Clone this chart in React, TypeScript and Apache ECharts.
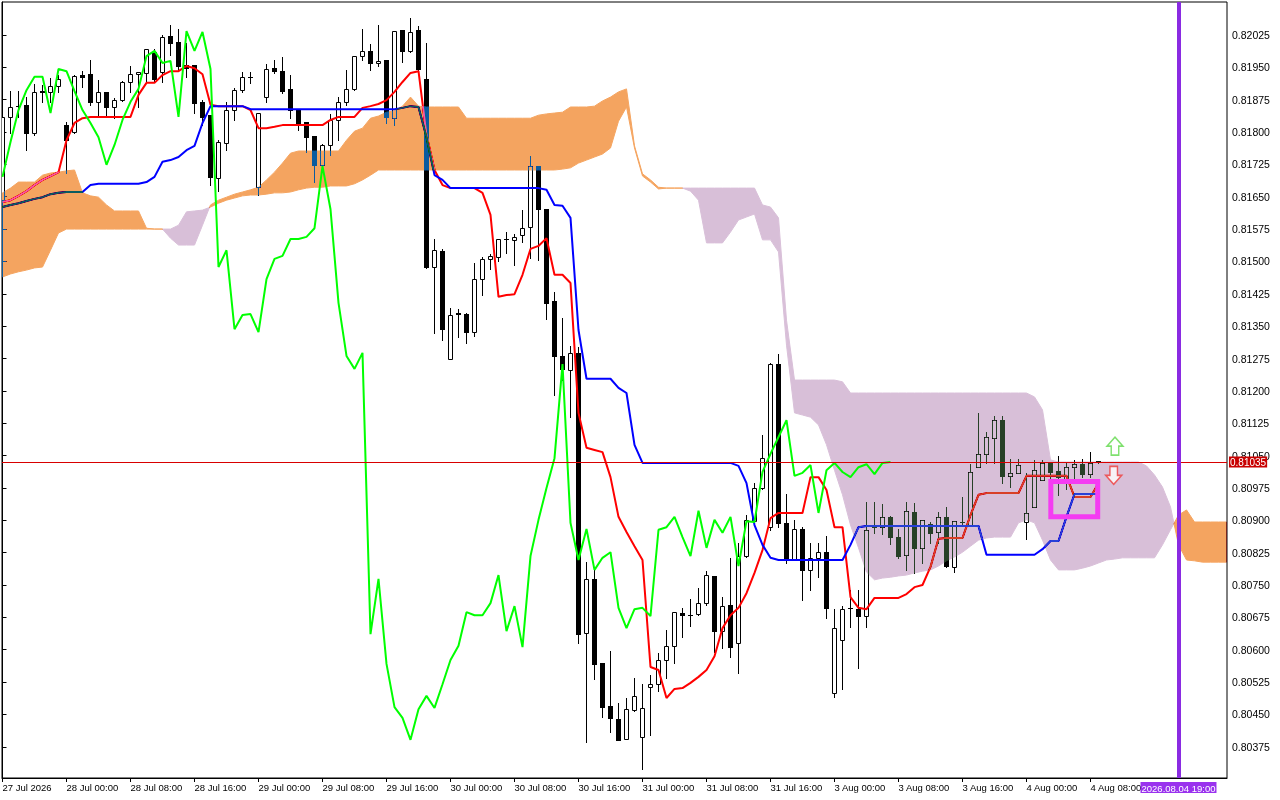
import React, { useEffect, useRef } from 'react';
import * as echarts from 'echarts';

// ---- axis labels ----
const timeLabelBars = [0, 8, 16, 24, 32, 40, 48, 56, 64, 72, 80, 88, 96, 104, 112, 120, 128, 136];
const timeLabels = [
  '27 Jul 2026', '28 Jul 00:00', '28 Jul 08:00', '28 Jul 16:00', '29 Jul 00:00', '29 Jul 08:00',
  '29 Jul 16:00', '30 Jul 00:00', '30 Jul 08:00', '30 Jul 16:00', '31 Jul 00:00', '31 Jul 08:00',
  '31 Jul 16:00', '3 Aug 00:00', '3 Aug 08:00', '3 Aug 16:00', '4 Aug 00:00', '4 Aug 08:00',
];
const priceTickLabels = [
  '0.80375', '0.80450', '0.80525', '0.80600', '0.80675', '0.80750', '0.80825', '0.80900',
  '0.80975', '0.81050', '0.81125', '0.81200', '0.81275', '0.81350', '0.81425', '0.81500',
  '0.81575', '0.81650', '0.81725', '0.81800', '0.81875', '0.81950', '0.82025',
];

// ---- H1 candles (bar index 0 = 27 Jul 16:00) ----
const open = [
  0.81642, 0.81835, 0.81860, 0.81863, 0.81798, 0.81895, 0.81893, 0.81907, 0.81816, 0.81800,
  0.81932, 0.81934, 0.81870, 0.81893, 0.81858, 0.81874, 0.81916, 0.81934, 0.81937, 0.81985,
  0.81939, 0.82023, 0.82009, 0.81955, 0.81955, 0.81870, 0.81839, 0.81693, 0.81774, 0.81851,
  0.81897, 0.81928, 0.81672, 0.81881, 0.81948, 0.81941, 0.81900, 0.81851, 0.81823, 0.81791,
  0.81724, 0.81770, 0.81828, 0.81870, 0.81900, 0.81976, 0.81988, 0.81960, 0.81967, 0.81832,
  0.82036, 0.81988, 0.82036, 0.81923, 0.81487, 0.81524, 0.81274, 0.81380, 0.81378, 0.81336,
  0.81459, 0.81506, 0.81510, 0.81552, 0.81550, 0.81561, 0.81580, 0.81721, 0.81621, 0.81408,
  0.81281, 0.81248, 0.81288, 0.80639, 0.80764, 0.80569, 0.80469, 0.80439, 0.80393, 0.80460,
  0.80398, 0.80513, 0.80520, 0.80576, 0.80609, 0.80685, 0.80680, 0.80683, 0.80708, 0.80771,
  0.80643, 0.80704, 0.80615, 0.80817, 0.80898, 0.80975, 0.80884, 0.81262, 0.80894, 0.80808,
  0.80880, 0.80785, 0.80813, 0.80826, 0.80500, 0.80622, 0.80697, 0.80694, 0.80678, 0.80884,
  0.80884, 0.80908, 0.80861, 0.80820, 0.80919, 0.80836, 0.80891, 0.80873, 0.80908, 0.80792,
  0.80896, 0.80889, 0.81023, 0.81054, 0.81091, 0.81132, 0.81003, 0.81010, 0.80896, 0.80931,
  0.80993, 0.81033, 0.81014, 0.80993, 0.81023, 0.81030, 0.81007, 0.81037,
];
const high = [
  0.81839, 0.81895, 0.81895, 0.81881, 0.81911, 0.81909, 0.81925, 0.81932, 0.81823, 0.81932,
  0.81941, 0.81967, 0.81921, 0.81893, 0.81879, 0.81918, 0.81953, 0.81939, 0.81992, 0.81992,
  0.82025, 0.82048, 0.82039, 0.82006, 0.81955, 0.81874, 0.81839, 0.81781, 0.81870, 0.81902,
  0.81939, 0.81939, 0.81844, 0.81958, 0.81967, 0.81974, 0.81932, 0.81851, 0.81823, 0.81791,
  0.81772, 0.81842, 0.81881, 0.81944, 0.81976, 0.82039, 0.82004, 0.82048, 0.81967, 0.82034,
  0.82036, 0.82064, 0.82046, 0.82006, 0.81552, 0.81529, 0.81392, 0.81390, 0.81380, 0.81496,
  0.81510, 0.81517, 0.81552, 0.81568, 0.81564, 0.81619, 0.81744, 0.81721, 0.81621, 0.81429,
  0.81369, 0.81304, 0.81302, 0.80803, 0.80785, 0.80569, 0.80597, 0.80476, 0.80488, 0.80534,
  0.80520, 0.80541, 0.80592, 0.80646, 0.80687, 0.80697, 0.80718, 0.80743, 0.80782, 0.80771,
  0.80722, 0.80813, 0.80847, 0.80912, 0.80986, 0.81098, 0.81265, 0.81285, 0.80961, 0.80901,
  0.80884, 0.80847, 0.80847, 0.80864, 0.80694, 0.80701, 0.80738, 0.80738, 0.80942, 0.80942,
  0.80938, 0.80910, 0.80880, 0.80942, 0.80940, 0.80901, 0.80896, 0.80919, 0.80931, 0.80898,
  0.80954, 0.81030, 0.81149, 0.81105, 0.81142, 0.81142, 0.81042, 0.81042, 0.81010, 0.81040,
  0.81040, 0.81033, 0.81049, 0.81035, 0.81040, 0.81042, 0.81058, 0.81037,
];
const low = [
  0.81635, 0.81798, 0.81835, 0.81758, 0.81793, 0.81870, 0.81870, 0.81893, 0.81705, 0.81798,
  0.81904, 0.81863, 0.81835, 0.81835, 0.81832, 0.81872, 0.81893, 0.81858, 0.81916, 0.81916,
  0.81916, 0.81978, 0.81944, 0.81928, 0.81844, 0.81816, 0.81677, 0.81663, 0.81758, 0.81828,
  0.81893, 0.81914, 0.81654, 0.81870, 0.81937, 0.81890, 0.81832, 0.81805, 0.81754, 0.81684,
  0.81712, 0.81747, 0.81781, 0.81863, 0.81897, 0.81967, 0.81944, 0.81953, 0.81821, 0.81816,
  0.81962, 0.81985, 0.81944, 0.81485, 0.81334, 0.81318, 0.81274, 0.81325, 0.81311, 0.81327,
  0.81422, 0.81482, 0.81501, 0.81519, 0.81492, 0.81545, 0.81508, 0.81503, 0.81367, 0.81190,
  0.81225, 0.81139, 0.80615, 0.80386, 0.80532, 0.80444, 0.80409, 0.80391, 0.80393, 0.80458,
  0.80323, 0.80402, 0.80504, 0.80534, 0.80569, 0.80629, 0.80655, 0.80680, 0.80704, 0.80595,
  0.80604, 0.80583, 0.80546, 0.80815, 0.80898, 0.80973, 0.80878, 0.80884, 0.80801, 0.80808,
  0.80715, 0.80738, 0.80768, 0.80673, 0.80490, 0.80509, 0.80653, 0.80558, 0.80653, 0.80871,
  0.80868, 0.80845, 0.80813, 0.80785, 0.80778, 0.80801, 0.80847, 0.80847, 0.80792, 0.80780,
  0.80889, 0.80889, 0.81023, 0.81033, 0.81033, 0.80986, 0.80977, 0.81010, 0.80857, 0.80931,
  0.80993, 0.80993, 0.80959, 0.80973, 0.80989, 0.81000, 0.81000, 0.81032,
];
const close = [
  0.81835, 0.81858, 0.81860, 0.81798, 0.81893, 0.81893, 0.81907, 0.81923, 0.81781, 0.81930,
  0.81928, 0.81870, 0.81893, 0.81858, 0.81874, 0.81916, 0.81934, 0.81939, 0.81992, 0.81923,
  0.82020, 0.82006, 0.81953, 0.81948, 0.81867, 0.81835, 0.81696, 0.81777, 0.81851, 0.81897,
  0.81928, 0.81928, 0.81844, 0.81946, 0.81941, 0.81895, 0.81851, 0.81821, 0.81788, 0.81724,
  0.81770, 0.81828, 0.81870, 0.81900, 0.81976, 0.81988, 0.81960, 0.81965, 0.81835, 0.82034,
  0.81988, 0.82032, 0.81946, 0.81487, 0.81526, 0.81343, 0.81376, 0.81378, 0.81336, 0.81459,
  0.81506, 0.81513, 0.81552, 0.81552, 0.81557, 0.81577, 0.81721, 0.81621, 0.81404, 0.81281,
  0.81251, 0.81288, 0.80636, 0.80764, 0.80567, 0.80467, 0.80442, 0.80391, 0.80462, 0.80493,
  0.80465, 0.80520, 0.80576, 0.80609, 0.80687, 0.80680, 0.80680, 0.80708, 0.80773, 0.80643,
  0.80701, 0.80606, 0.80817, 0.80901, 0.80975, 0.81044, 0.81262, 0.80894, 0.80808, 0.80880,
  0.80785, 0.80813, 0.80826, 0.80697, 0.80650, 0.80694, 0.80697, 0.80678, 0.80878, 0.80884,
  0.80908, 0.80861, 0.80817, 0.80922, 0.80836, 0.80901, 0.80871, 0.80908, 0.80794, 0.80898,
  0.80896, 0.81012, 0.81054, 0.81093, 0.81132, 0.81003, 0.81010, 0.81028, 0.80917, 0.81016,
  0.81033, 0.81012, 0.81000, 0.81023, 0.81030, 0.81007, 0.81033, 0.81035,
];

// ---- Ichimoku lines ----
const tenkan = [
  0.81638, 0.81642, 0.81652, 0.81663, 0.81677, 0.81689, 0.81698, 0.81707, 0.81781, 0.81821,
  0.81832, 0.81835, 0.81835, 0.81835, 0.81835, 0.81835, 0.81835, 0.81886, 0.81914, 0.81914,
  0.81932, 0.81941, 0.81941, 0.81953, 0.81948, 0.81934, 0.81863, 0.81860, 0.81860, 0.81860,
  0.81860, 0.81851, 0.81809, 0.81809, 0.81812, 0.81816, 0.81816, 0.81816, 0.81816, 0.81816,
  0.81816, 0.81828, 0.81835, 0.81835, 0.81835, 0.81856, 0.81860, 0.81865, 0.81874, 0.81893,
  0.81916, 0.81937, 0.81941, 0.81793, 0.81712, 0.81677, 0.81670, 0.81670, 0.81670, 0.81670,
  0.81659, 0.81608, 0.81418, 0.81422, 0.81424, 0.81469, 0.81529, 0.81536, 0.81554, 0.81469,
  0.81469, 0.81450, 0.81149, 0.81068, 0.81063, 0.81058, 0.81000, 0.80908, 0.80873, 0.80840,
  0.80808, 0.80560, 0.80553, 0.80488, 0.80509, 0.80511, 0.80523, 0.80537, 0.80553, 0.80585,
  0.80650, 0.80680, 0.80697, 0.80731, 0.80778, 0.80831, 0.80905, 0.80917, 0.80917, 0.80917,
  0.80917, 0.81000, 0.81000, 0.80970, 0.80884, 0.80884, 0.80722, 0.80697, 0.80694, 0.80720,
  0.80720, 0.80720, 0.80720, 0.80729, 0.80745, 0.80750, 0.80792, 0.80857, 0.80859, 0.80859,
  0.80859, 0.80912, 0.80959, 0.80963, 0.80963, 0.80963, 0.80963, 0.80963, 0.81003, 0.81003,
  0.81003, 0.81003, 0.81003, 0.81003, 0.80954, 0.80954, 0.80954, 0.80986,
];
const kijun = [
  0.81626, 0.81631, 0.81635, 0.81640, 0.81645, 0.81649, 0.81656, 0.81659, 0.81661, 0.81661,
  0.81661, 0.81677, 0.81680, 0.81680, 0.81680, 0.81680, 0.81680, 0.81680, 0.81684, 0.81696,
  0.81731, 0.81735, 0.81742, 0.81758, 0.81768, 0.81821, 0.81860, 0.81860, 0.81860, 0.81860,
  0.81860, 0.81853, 0.81853, 0.81853, 0.81853, 0.81853, 0.81853, 0.81853, 0.81853, 0.81853,
  0.81853, 0.81853, 0.81853, 0.81853, 0.81853, 0.81853, 0.81853, 0.81853, 0.81853, 0.81853,
  0.81856, 0.81860, 0.81858, 0.81788, 0.81700, 0.81689, 0.81670, 0.81670, 0.81670, 0.81670,
  0.81670, 0.81670, 0.81670, 0.81670, 0.81670, 0.81670, 0.81670, 0.81670, 0.81666, 0.81631,
  0.81629, 0.81601, 0.81341, 0.81228, 0.81228, 0.81228, 0.81228, 0.81207, 0.81195, 0.81075,
  0.81033, 0.81033, 0.81033, 0.81033, 0.81033, 0.81033, 0.81033, 0.81033, 0.81033, 0.81033,
  0.81033, 0.81033, 0.81026, 0.80986, 0.80889, 0.80843, 0.80813, 0.80808, 0.80808, 0.80808,
  0.80808, 0.80808, 0.80808, 0.80808, 0.80808, 0.80808, 0.80843, 0.80884, 0.80887, 0.80887,
  0.80887, 0.80887, 0.80887, 0.80887, 0.80887, 0.80887, 0.80887, 0.80887, 0.80887, 0.80887,
  0.80887, 0.80887, 0.80887, 0.80820, 0.80820, 0.80820, 0.80820, 0.80820, 0.80820, 0.80820,
  0.80833, 0.80852, 0.80852, 0.80908, 0.80961, 0.80961, 0.80961, 0.80961,
];
const spanA = [
  0.81659, 0.81670, 0.81684, 0.81684, 0.81684, 0.81700, 0.81705, 0.81707, 0.81710, 0.81712,
  0.81659, 0.81652, 0.81649, 0.81631, 0.81617, 0.81617, 0.81617, 0.81617, 0.81577, 0.81575,
  0.81575, 0.81554, 0.81538, 0.81538, 0.81538, 0.81584, 0.81631, 0.81642, 0.81649, 0.81656,
  0.81661, 0.81666, 0.81672, 0.81689, 0.81707, 0.81728, 0.81751, 0.81756, 0.81756, 0.81756,
  0.81756, 0.81756, 0.81756, 0.81781, 0.81802, 0.81809, 0.81832, 0.81837, 0.81846, 0.81849,
  0.81860, 0.81881, 0.81860, 0.81858, 0.81858, 0.81858, 0.81858, 0.81858, 0.81832, 0.81832,
  0.81832, 0.81832, 0.81832, 0.81832, 0.81832, 0.81832, 0.81832, 0.81839, 0.81842, 0.81844,
  0.81846, 0.81858, 0.81858, 0.81858, 0.81860, 0.81872, 0.81881, 0.81893, 0.81900, 0.81768,
  0.81703, 0.81689, 0.81672, 0.81670, 0.81670, 0.81670, 0.81663, 0.81642, 0.81543, 0.81543,
  0.81543, 0.81568, 0.81596, 0.81603, 0.81610, 0.81550, 0.81550, 0.81522, 0.81306, 0.81149,
  0.81144, 0.81139, 0.81121, 0.81075, 0.81016, 0.80959, 0.80889, 0.80836, 0.80780, 0.80762,
  0.80766, 0.80768, 0.80771, 0.80773, 0.80778, 0.80782, 0.80785, 0.80794, 0.80806, 0.80815,
  0.80826, 0.80840, 0.80854, 0.80859, 0.80861, 0.80861, 0.80861, 0.80894, 0.80901, 0.80894,
  0.80854, 0.80808, 0.80785, 0.80785, 0.80785, 0.80789, 0.80794, 0.80801, 0.80808, 0.80810,
  0.80813, 0.80813, 0.80813, 0.80813, 0.80813, 0.80843, 0.80878, 0.80912, 0.80924, 0.80896,
  0.80896, 0.80896, 0.80896, 0.80896,
];
const spanB = [
  0.81464, 0.81471, 0.81476, 0.81480, 0.81485, 0.81487, 0.81526, 0.81566, 0.81575, 0.81575,
  0.81575, 0.81575, 0.81575, 0.81575, 0.81575, 0.81575, 0.81575, 0.81575, 0.81575, 0.81575,
  0.81575, 0.81575, 0.81584, 0.81615, 0.81617, 0.81619, 0.81626, 0.81635, 0.81642, 0.81647,
  0.81652, 0.81654, 0.81654, 0.81656, 0.81659, 0.81659, 0.81661, 0.81666, 0.81670, 0.81672,
  0.81672, 0.81675, 0.81675, 0.81675, 0.81680, 0.81689, 0.81700, 0.81712, 0.81712, 0.81712,
  0.81712, 0.81712, 0.81712, 0.81712, 0.81712, 0.81712, 0.81712, 0.81712, 0.81712, 0.81712,
  0.81712, 0.81712, 0.81712, 0.81712, 0.81712, 0.81712, 0.81712, 0.81712, 0.81712, 0.81712,
  0.81714, 0.81717, 0.81728, 0.81735, 0.81742, 0.81749, 0.81763, 0.81825, 0.81858, 0.81763,
  0.81698, 0.81684, 0.81668, 0.81670, 0.81670, 0.81670, 0.81670, 0.81670, 0.81670, 0.81670,
  0.81670, 0.81670, 0.81670, 0.81670, 0.81670, 0.81631, 0.81626, 0.81601, 0.81364, 0.81225,
  0.81225, 0.81225, 0.81225, 0.81225, 0.81225, 0.81221, 0.81195, 0.81195, 0.81195, 0.81195,
  0.81195, 0.81195, 0.81195, 0.81195, 0.81195, 0.81195, 0.81195, 0.81195, 0.81195, 0.81195,
  0.81195, 0.81195, 0.81195, 0.81195, 0.81195, 0.81195, 0.81195, 0.81195, 0.81195, 0.81186,
  0.81156, 0.81040, 0.81035, 0.81035, 0.81035, 0.81035, 0.81035, 0.81035, 0.81035, 0.81035,
  0.81035, 0.81035, 0.81035, 0.81026, 0.81005, 0.80977, 0.80931, 0.80843, 0.80808, 0.80806,
  0.80803, 0.80803, 0.80803, 0.80803,
];
const chikouShift = 26;

// ---- objects on the chart ----
const currentPrice = 0.81035;
const currentPriceLabel = '0.81035';
const markerBar = 147;
const markerLabel = '2026.08.04 19:00';
const upArrow = [139.06, 0.81072];
const downArrow = [138.9, 0.81004];
const boxCorners = [[131.04, 0.8099], [136.9, 0.80908]];

const ORANGE_INV = '#0b5b9f'; // inverse of SandyBrown, shown through "difference"
const THISTLE_INV = '#274027'; // inverse of Thistle
const FONT = 'Liberation Sans';

function buildCloud(a: number[], b: number[]) {
  const polys: { bull: boolean; pts: number[][] }[] = [];
  let bull = a[0] >= b[0];
  let top: number[][] = [[0, a[0]]];
  let bot: number[][] = [[0, b[0]]];
  for (let i = 1; i < a.length; i++) {
    const d0 = a[i - 1] - b[i - 1];
    const d1 = a[i] - b[i];
    const nb = d1 > 0 ? true : d1 < 0 ? false : bull;
    if (nb !== bull) {
      const t = d0 === d1 ? 0 : d0 / (d0 - d1);
      const xc = i - 1 + t;
      const yc = a[i - 1] + t * (a[i] - a[i - 1]);
      top.push([xc, yc]);
      bot.push([xc, yc]);
      polys.push({ bull, pts: top.concat(bot.slice().reverse()) });
      top = [[xc, yc]];
      bot = [[xc, yc]];
      bull = nb;
    }
    top.push([i, a[i]]);
    bot.push([i, b[i]]);
  }
  polys.push({ bull, pts: top.concat(bot.slice().reverse()) });
  return polys;
}

export default function App() {
  const ref = useRef<HTMLDivElement>(null);

  useEffect(() => {
    if (!ref.current) return;
    const chart = echarts.init(ref.current, null, { renderer: 'svg' });
    const cloud = buildCloud(spanA, spanB);
    const priceTicks = priceTickLabels.map(Number);

    const option: any = {
      animation: false,
      backgroundColor: '#ffffff',
      textStyle: { fontFamily: FONT },
      grid: {
        left: 2, right: 53, top: 2, bottom: 22,
        show: true, borderColor: '#000', borderWidth: 1, backgroundColor: '#ffffff',
        outerBoundsMode: 'none',
      },
      xAxis: {
        type: 'value', min: -0.0625, max: 153.0625,
        axisLine: { show: true, lineStyle: { color: '#000', width: 1 } },
        axisTick: { show: true, length: 4, customValues: timeLabelBars, lineStyle: { color: '#000' } },
        axisLabel: {
          customValues: timeLabelBars,
          formatter: (v: number) => {
            const k = timeLabelBars.indexOf(Math.round(v));
            return k >= 0 ? timeLabels[k] : '';
          },
          align: 'left', color: '#000', fontSize: 9.5, margin: 4, fontFamily: FONT,
        },
        splitLine: { show: false },
      },
      yAxis: {
        type: 'value', position: 'right', min: 0.803026, max: 0.821014,
        axisLine: { show: true, lineStyle: { color: '#000', width: 1 } },
        axisTick: { show: true, length: 4, customValues: priceTicks, lineStyle: { color: '#000' } },
        axisLabel: {
          customValues: priceTicks,
          formatter: (v: number) => v.toFixed(5),
          color: '#000', fontSize: 10.5, margin: 5, fontFamily: FONT,
        },
        splitLine: { show: false },
      },
      series: [
        {
          name: 'candles', type: 'custom', z: 2, silent: true, clip: true,
          data: open.map((o, i) => [i, o, close[i], low[i], high[i]]),
          encode: { x: 0, y: [1, 2, 3, 4] },
          renderItem: (params: any, api: any) => {
            const i = api.value(0);
            const o = api.value(1), c = api.value(2), l = api.value(3), h = api.value(4);
            const ph = api.coord([i, h]);
            const pl = api.coord([i, l]);
            const po = api.coord([i, o]);
            const pc = api.coord([i, c]);
            const cx = Math.floor(ph[0]) + 0.5;
            const children: any[] = [
              { type: 'line', shape: { x1: cx, y1: Math.round(ph[1]), x2: cx, y2: Math.round(pl[1]) + 1 }, style: { stroke: '#000', lineWidth: 1 } },
            ];
            const yo = Math.round(po[1]);
            const yc = Math.round(pc[1]);
            if (Math.abs(yo - yc) < 1) {
              children.push({ type: 'line', shape: { x1: cx - 2.5, y1: yo + 0.5, x2: cx + 2.5, y2: yo + 0.5 }, style: { stroke: '#000', lineWidth: 1 } });
            } else if (c > o) {
              children.push({ type: 'rect', shape: { x: cx - 2, y: yc + 0.5, width: 4, height: yo - yc }, style: { fill: '#fff', stroke: '#000', lineWidth: 1 } });
            } else {
              children.push({ type: 'rect', shape: { x: cx - 2.5, y: yo, width: 5, height: yc - yo + 1 }, style: { fill: '#000' } });
            }
            return { type: 'group', children };
          },
        },
        {
          name: 'Tenkan-sen', type: 'line', z: 3, silent: true, symbol: 'none',
          data: tenkan.map((v, i) => [i, v]),
          lineStyle: { color: '#FF0000', width: 2 },
        },
        {
          name: 'Kijun-sen', type: 'line', z: 3, silent: true, symbol: 'none',
          data: kijun.map((v, i) => [i, v]),
          lineStyle: { color: '#0000FF', width: 2 },
        },
        {
          name: 'Kumo', type: 'custom', z: 4, silent: true, clip: false,
          data: cloud.map((_, k) => [k, spanA[0]]),
          renderItem: (params: any, api: any) => {
            const poly = cloud[params.dataIndex];
            const pts = poly.pts.map((p) => api.coord(p));
            const col = poly.bull ? ORANGE_INV : THISTLE_INV;
            return { type: 'polygon', shape: { points: pts }, style: { fill: col, stroke: col, lineWidth: 1 } };
          },
        },
        {
          name: 'Chikou Span', type: 'line', z: 5, silent: true, symbol: 'none',
          data: close.slice(chikouShift).map((v, j) => [j, v]),
          lineStyle: { color: '#00FF00', width: 2 },
        },
        {
          name: 'objects', type: 'scatter', z: 8, silent: true,
          data: [
            {
              value: upArrow,
              symbol: 'path://M8.5,0 L17,9 L12.5,9 L12.5,18 L4.5,18 L4.5,9 L0,9 Z',
              symbolSize: [16, 18],
              itemStyle: { color: '#ffffff', borderColor: '#5FD84A', borderWidth: 1.5 },
            },
            {
              value: downArrow,
              symbol: 'path://M4.5,0 L12.5,0 L12.5,9 L17,9 L8.5,18 L0,9 L4.5,9 Z',
              symbolSize: [16, 18],
              itemStyle: { color: '#ffffff', borderColor: '#EE3A3A', borderWidth: 1.5 },
            },
          ],
          markArea: {
            silent: true, z: 10,
            itemStyle: { color: 'rgba(0,0,0,0)', borderColor: '#F43CF2', borderWidth: 5 },
            data: [[
              { xAxis: boxCorners[0][0], yAxis: boxCorners[0][1] },
              { xAxis: boxCorners[1][0], yAxis: boxCorners[1][1] },
            ]],
          },
          markLine: {
            silent: true, z: 9, precision: 5, symbol: ['none', 'none'],
            data: [
              {
                yAxis: currentPrice,
                lineStyle: { color: '#D80000', width: 1, type: 'solid' },
                label: {
                  show: true, position: 'end', formatter: currentPriceLabel, color: '#fff',
                  backgroundColor: '#C80000', padding: [1, 1, 0, 1], fontSize: 10, distance: 2, fontFamily: FONT,
                },
              },
              {
                xAxis: markerBar,
                lineStyle: { color: '#8A2BE2', width: 4, type: 'solid' },
                label: {
                  show: true, position: 'start', formatter: markerLabel, color: '#fff',
                  backgroundColor: '#9A32EE', padding: [1, 1, 0, 1], fontSize: 9.5, distance: 4, fontFamily: FONT,
                },
              },
            ],
          },
        },
      ],
    };

    const applyBlend = () => {
      const root = ref.current;
      if (!root) return;
      root.querySelectorAll('path, polygon').forEach((el) => {
        const f = (el.getAttribute('fill') || '').replace(/\s+/g, '').toLowerCase();
        if (f === ORANGE_INV || f === THISTLE_INV || f === 'rgb(11,91,159)' || f === 'rgb(39,64,39)') {
          (el as SVGElement).style.mixBlendMode = 'difference';
        }
      });
    };
    chart.on('finished', applyBlend);
    chart.on('rendered', applyBlend);
    chart.setOption(option);
    applyBlend();
    const t = setTimeout(applyBlend, 30);

    return () => {
      clearTimeout(t);
      chart.dispose();
    };
  }, []);

  return <div ref={ref} style={{ position: 'fixed', left: 0, top: 0, width: 1280, height: 800 }} />;
}
